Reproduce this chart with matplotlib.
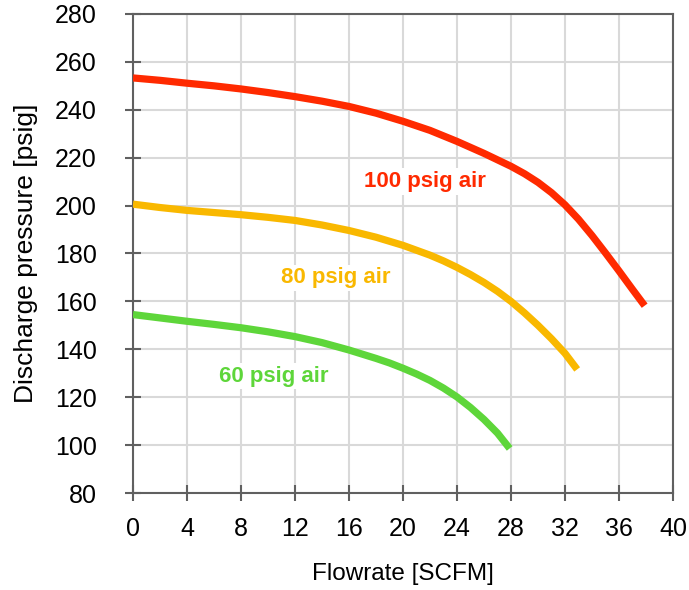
import matplotlib.pyplot as plt

# curve data
flow_100 = [0, 2, 4, 6, 8, 10, 12, 14, 16, 18, 20, 22, 24, 26, 28, 29, 30,
            31, 32, 33, 34, 35, 36, 37, 37.9]
pres_100 = [253.3, 252.3, 251.1, 250.0, 248.7, 247.2, 245.5, 243.6, 241.4,
            238.6, 235.2, 231.4, 226.8, 221.8, 216.4, 213.3, 209.7, 205.4,
            200.3, 194.3, 187.5, 180.2, 172.7, 165.0, 158.2]

flow_80 = [0, 2, 4, 6, 8, 10, 12, 14, 16, 18, 20, 22, 23, 24, 25, 26, 27,
           28, 29, 30, 31, 32, 32.9]
pres_80 = [200.6, 199.2, 198.0, 197.1, 196.2, 195.1, 193.8, 191.9, 189.6,
           186.8, 183.4, 179.3, 176.9, 174.2, 171.2, 167.9, 164.2, 160.0,
           155.2, 150.0, 144.4, 138.3, 131.6]

flow_60 = [0, 2, 4, 6, 8, 10, 12, 14, 16, 18, 19, 20, 21, 22, 23, 24, 25,
           26, 27, 27.9]
pres_60 = [154.5, 153.1, 151.7, 150.4, 149.0, 147.3, 145.3, 142.8, 139.7,
           136.2, 134.3, 132.1, 129.7, 127.0, 123.8, 120.1, 115.7, 110.7,
           105.0, 98.6]

labels = ["100 psig air", "80 psig air", "60 psig air"]
label_pos = [(21.6, 210.0), (15.0, 169.8), (10.4, 128.8)]
colors = ["#ff2a00", "#f9b800", "#5ed63a"]

x_ticks = list(range(0, 41, 4))
y_ticks = list(range(80, 281, 20))

plt.rcParams['font.family'] = ['Liberation Sans', 'DejaVu Sans']

fig = plt.figure(figsize=(6.89, 5.90), dpi=100)
ax = fig.add_axes([0.193, 0.1644, 0.7838, 0.8119])

series = [(flow_100, pres_100), (flow_80, pres_80), (flow_60, pres_60)]
for (fx, py), c in zip(series, colors):
    ax.plot(fx, py, color=c, lw=5.2, solid_capstyle='butt',
            solid_joinstyle='round', zorder=3)

for text, (tx, ty), c in zip(labels, label_pos, colors):
    ax.text(tx, ty, text, color=c, fontsize=16, fontweight='bold',
            ha='center', va='center', zorder=4,
            bbox=dict(facecolor='white', edgecolor='none', pad=2))

ax.set_xlim(0, 40)
ax.set_ylim(80, 280)
ax.set_xticks(x_ticks)
ax.set_yticks(y_ticks)
ax.grid(True, color='#d9d9d9', lw=1.5, zorder=0)
ax.set_axisbelow(True)

for s in ax.spines.values():
    s.set_color('#606060')
    s.set_linewidth(1.5)

ax.tick_params(axis='both', direction='inout', length=11, width=1.5,
               color='#606060', labelsize=18, labelcolor='black')
ax.tick_params(axis='y', pad=20.5)
ax.tick_params(axis='x', pad=11.5)

ax.set_xlabel("Flowrate [SCFM]", fontsize=17.5, labelpad=16)
ax.set_ylabel("Discharge pressure [psig]", fontsize=19, labelpad=12)

fig.savefig("out.png", dpi=100)
